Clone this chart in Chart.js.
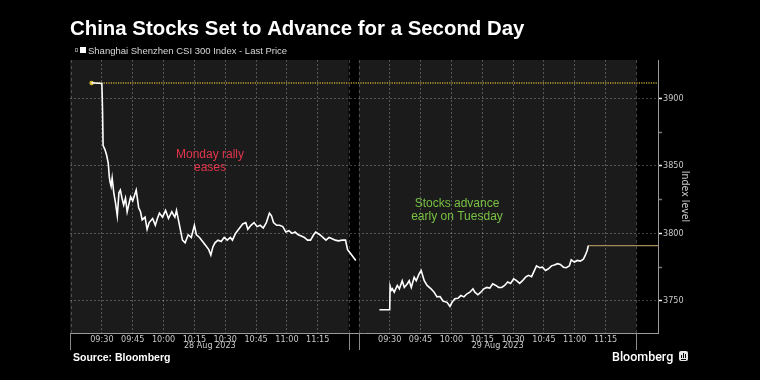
<!DOCTYPE html>
<html><head><meta charset="utf-8">
<script src="https://cdn.jsdelivr.net/npm/chart.js@4.4.0/dist/chart.umd.min.js"></script>
<style>
html,body{margin:0;padding:0;background:#000;}
canvas{display:block;}
</style></head><body>
<canvas id="c" width="760" height="380"></canvas>
<script>
// ---------- data ----------
const chartTitle = 'China Stocks Set to Advance for a Second Day';
const seriesName = 'Shanghai Shenzhen CSI 300 Index - Last Price';
const sourceText = 'Source: Bloomberg';
const axisTitle = 'Index level';
const dayLabels = ['28 Aug 2023', '29 Aug 2023'];
const tickLabels = ['09:30','09:45','10:00','10:15','10:30','10:45','11:00','11:15'];
const tickMinutes = [15, 30, 45, 60, 75, 90, 105, 120];          // minutes after 09:15
const yMajorTicks = [3750, 3800, 3850, 3900];
const yMinorTicks = [3775, 3825, 3875];
const annotationMonday = ['Monday rally', 'eases'];
const annotationTuesday = ['Stocks advance', 'early on Tuesday'];

const day1Minutes = [10, 15, 15.3, 15.6, 16.5, 17.3, 18.1, 18.6, 19, 19.5, 20, 20.8, 21.6, 22.5, 23.3, 24, 24.8, 25.6, 26.5, 27.3, 28.2, 29, 30, 31.7, 32.9, 33.8, 34.6, 36, 37, 38, 39.7, 41, 42, 43, 44.5, 46, 47.4, 49, 50.5, 51.3, 52.5, 54.2, 55.5, 57, 58.5, 60, 61, 62.5, 64, 65.5, 67, 68, 69, 70, 71.5, 73, 74.5, 76, 77.5, 78.5, 80, 82, 83.5, 85, 86, 87.5, 89, 90.5, 92, 93.5, 95, 96.5, 97.5, 98.5, 100, 101.5, 103, 104.5, 106, 107.5, 109, 110.5, 112, 113.5, 115, 116.5, 118, 119, 121, 122.5, 124, 125.5, 127, 128.5, 130, 132, 133.5, 134.5, 135.5, 136.5, 137.5, 138.5];
const day1Values = [3911.5, 3911, 3893, 3865, 3862, 3858, 3852, 3842, 3838, 3835, 3841, 3830, 3823, 3813, 3830, 3832, 3826, 3821, 3826, 3816, 3822, 3827, 3824, 3832, 3819, 3816, 3810, 3812, 3803, 3808, 3811, 3806, 3811, 3815, 3812, 3817, 3811, 3816, 3812, 3817, 3808, 3795, 3793, 3799, 3797, 3806, 3799, 3797, 3794, 3791, 3788, 3784, 3790, 3793, 3795, 3794, 3797, 3795, 3797, 3795, 3800, 3804, 3807, 3808, 3803, 3806, 3808, 3805, 3806, 3804, 3808, 3815, 3813, 3808, 3806, 3806, 3805, 3801, 3802, 3800, 3801, 3799, 3798, 3797, 3795, 3795, 3799, 3801, 3799, 3797, 3795, 3797, 3796, 3795, 3794.5, 3795, 3795, 3788, 3786, 3784, 3782, 3780];

const day2Minutes = [10, 15, 15.2, 15.8, 16.3, 17.2, 18.7, 19.7, 21.1, 22.1, 23.5, 24.5, 25.5, 26.9, 27.9, 29.3, 30.3, 31.8, 33.2, 35.1, 36.6, 38, 39.5, 40.9, 42.9, 44.3, 45.3, 46.7, 48.2, 49.6, 51.1, 52.6, 54, 55.5, 56.4, 57.9, 59.3, 60.8, 62.2, 63.7, 65.1, 66.6, 68, 69.5, 70.9, 72.4, 73.8, 75.3, 76.7, 78.2, 79.6, 81.1, 82.5, 84, 85.4, 86.4, 87.9, 89.3, 90.8, 92.2, 93.7, 95.1, 96.6, 98, 99.5, 100.9, 102.4, 103.3, 104.8, 106.3, 107.7, 109.2, 110.1, 111.1, 111.6];
const day2Values = [3743.5, 3743.5, 3761, 3758, 3759, 3756.5, 3761.5, 3759, 3765, 3760, 3762.6, 3765, 3760, 3767.6, 3765, 3770, 3772.6, 3765, 3761.5, 3759, 3756.5, 3753, 3753.3, 3750, 3749, 3746, 3749, 3751.6, 3752, 3754, 3753, 3755.3, 3756.5, 3759, 3756.5, 3754.6, 3756.5, 3759, 3760, 3759.5, 3762.7, 3761.5, 3760, 3760, 3761.5, 3764, 3763, 3766.4, 3765, 3763, 3765, 3767.6, 3769, 3768, 3772.6, 3776, 3774.6, 3775, 3772.6, 3773.8, 3776, 3776.7, 3777.6, 3777, 3775, 3774.6, 3776, 3780.5, 3778.8, 3780, 3779.5, 3781, 3783.7, 3787.5, 3791];

const openLevel = 3911.3;     // dotted reference line
const lastLevel = 3791;       // last price carried forward

// ---------- layout constants ----------
const DAY_OFFSET = 140;       // axis minutes where second session starts
const SESSION_LEN = 135;      // 09:15 - 11:30
const X_MIN = -0.5, X_MAX = 285.5;
const Y_MIN = 3726.3, Y_MAX = 3928.3;
const NARROW = "'Liberation Sans Narrow', 'DejaVu Sans Condensed', 'Liberation Sans', Arial, sans-serif";
const SANS = "'Liberation Sans', Arial, sans-serif";

const pts = (ms, vs, off) => ms.map((m, i) => ({x: m + off, y: vs[i]}));
const xTicks = [...tickMinutes, ...tickMinutes.map(m => m + DAY_OFFSET)];
const yTicks = [...yMajorTicks, ...yMinorTicks].sort((a, b) => a - b);
const lastX = day2Minutes[day2Minutes.length - 1] + DAY_OFFSET;

const decor = {
  id: 'decor',
  beforeDraw(chart) {
    const {ctx, chartArea: a, scales: {x}} = chart;
    ctx.save();
    ctx.fillStyle = '#000';
    ctx.fillRect(0, 0, chart.width, chart.height);
    ctx.fillStyle = '#1b1b1b';
    [[0, SESSION_LEN], [DAY_OFFSET, DAY_OFFSET + SESSION_LEN]].forEach(([s, e]) => {
      const x0 = s === 0 ? a.left : x.getPixelForValue(s);
      const x1 = x.getPixelForValue(e);
      ctx.fillRect(x0, a.top, x1 - x0, a.bottom - a.top);
    });
    ctx.restore();
  },
  beforeDatasetsDraw(chart) {
    const {ctx, chartArea: a, scales: {x}} = chart;
    ctx.save();
    ctx.strokeStyle = 'rgba(120,120,120,0.55)';
    ctx.lineWidth = 1;
    ctx.setLineDash([3, 3]);
    [a.left + 0.5, x.getPixelForValue(SESSION_LEN), x.getPixelForValue(DAY_OFFSET), x.getPixelForValue(DAY_OFFSET + SESSION_LEN)].forEach(px => {
      px = Math.round(px) + 0.5;
      ctx.beginPath(); ctx.moveTo(px, a.top); ctx.lineTo(px, a.bottom); ctx.stroke();
    });
    ctx.restore();
  },
  afterDraw(chart) {
    const {ctx, chartArea: a, scales: {x}} = chart;
    ctx.save();
    // separators below the axis
    ctx.strokeStyle = '#8a8a8a';
    ctx.lineWidth = 1;
    [a.left, x.getPixelForValue(SESSION_LEN), x.getPixelForValue(DAY_OFFSET), x.getPixelForValue(DAY_OFFSET + SESSION_LEN)].forEach(px => {
      px = Math.round(px) + 0.5;
      ctx.beginPath(); ctx.moveTo(px, a.bottom); ctx.lineTo(px, a.bottom + 17); ctx.stroke();
    });
    // date labels
    ctx.fillStyle = '#c8c8c8';
    ctx.font = '9px ' + NARROW;
    ctx.textAlign = 'center';
    ctx.textBaseline = 'middle';
    ctx.fillText(dayLabels[0], x.getPixelForValue(SESSION_LEN / 2), 346);
    ctx.fillText(dayLabels[1], x.getPixelForValue(DAY_OFFSET + SESSION_LEN / 2), 346);

    // title
    ctx.textAlign = 'left';
    ctx.textBaseline = 'alphabetic';
    ctx.fillStyle = '#ffffff';
    ctx.font = 'bold 20.4px ' + SANS;
    ctx.fillText(chartTitle, 70, 35);

    // legend
    ctx.strokeStyle = '#777';
    ctx.strokeRect(75.5, 48.5, 2, 3);
    ctx.fillStyle = '#ffffff';
    ctx.fillRect(80, 47, 6, 6);
    ctx.fillStyle = '#d8d8d8';
    ctx.font = '9.5px ' + SANS;
    ctx.textBaseline = 'middle';
    ctx.fillText(seriesName, 88, 51);

    // source
    ctx.fillStyle = '#ffffff';
    ctx.font = 'bold 10.5px ' + SANS;
    ctx.textBaseline = 'alphabetic';
    ctx.fillText(sourceText, 73, 361);

    // Bloomberg logo
    ctx.font = '500 12.5px Roboto, ' + SANS;
    ctx.fillText('Bloomberg', 612, 361);
    ctx.fillStyle = '#e8e8e8';
    const lx = 679, ly = 351;
    ctx.beginPath();
    if (ctx.roundRect) ctx.roundRect(lx, ly, 9, 10, 2); else ctx.rect(lx, ly, 9, 10);
    ctx.fill();
    ctx.fillStyle = '#000';
    ctx.fillRect(lx + 2, ly + 4, 1, 3);
    ctx.fillRect(lx + 4, ly + 2, 1, 5);
    ctx.fillRect(lx + 6, ly + 3, 1, 4);
    ctx.fillRect(lx + 2, ly + 8, 5, 1);

    // annotations
    ctx.textAlign = 'center';
    ctx.textBaseline = 'middle';
    ctx.font = '12px ' + SANS;
    ctx.fillStyle = '#e0354c';
    ctx.fillText(annotationMonday[0], 210, 155);
    ctx.fillText(annotationMonday[1], 210, 168);
    ctx.fillStyle = '#78c142';
    ctx.fillText(annotationTuesday[0], 457, 204);
    ctx.fillText(annotationTuesday[1], 457, 217);
    ctx.restore();
  }
};

new Chart(document.getElementById('c'), {
  type: 'line',
  data: {
    datasets: [
      {data: pts(day1Minutes, day1Values, 0), borderColor: '#ffffff', borderWidth: 1.6, pointRadius: 0, tension: 0},
      {data: pts(day2Minutes, day2Values, DAY_OFFSET), borderColor: '#ffffff', borderWidth: 1.6, pointRadius: 0, tension: 0},
      {data: [{x: lastX, y: lastLevel}, {x: X_MAX, y: lastLevel}], borderColor: '#a38a56', borderWidth: 1.2, pointRadius: 0},
      {data: [{x: day1Minutes[0], y: openLevel}, {x: X_MAX, y: openLevel}], borderColor: '#bfa530', borderWidth: 1.6,
       borderDash: [1.2, 1.2], pointRadius: [2.2, 0], pointBackgroundColor: '#d9bc3a', pointBorderWidth: 0}
    ]
  },
  options: {
    responsive: false,
    animation: false,
    devicePixelRatio: 1,
    layout: {padding: {top: 60, left: 70, right: 0, bottom: 0}},
    plugins: {legend: {display: false}, tooltip: {enabled: false}},
    scales: {
      x: {
        type: 'linear', position: 'bottom', min: X_MIN, max: X_MAX,
        afterBuildTicks: s => { s.ticks = xTicks.map(v => ({value: v})); },
        afterFit: s => { s.height = 47; },
        ticks: {autoSkip: false, maxRotation: 0, padding: 1, color: '#c8c8c8',
                font: {family: NARROW, size: 9},
                callback: (v, i) => tickLabels[i % tickLabels.length]},
        grid: {color: 'rgba(255,255,255,0.26)', drawTicks: false, lineWidth: 1},
        border: {display: true, color: '#9a9a9a', width: 1, dash: [2, 2]}
      },
      y: {
        type: 'linear', position: 'right', min: Y_MIN, max: Y_MAX,
        afterBuildTicks: s => { s.ticks = yTicks.map(v => ({value: v})); },
        afterFit: s => { s.width = 102; },
        ticks: {padding: 1, color: '#c8c8c8', font: {family: NARROW, size: 9},
                callback: v => yMajorTicks.includes(v) ? String(v) : ''},
        grid: {
          color: c => (c.tick && yMajorTicks.includes(c.tick.value)) ? 'rgba(255,255,255,0.26)' : 'rgba(0,0,0,0)',
          tickColor: c => (c.tick && yMajorTicks.includes(c.tick.value)) ? '#f0f0f0' : '#777',
          tickLength: 4, tickWidth: 1.5, drawTicks: true
        },
        border: {display: true, color: '#9a9a9a', width: 1, dash: [2, 2]},
        title: {display: true, text: axisTitle, color: '#c8c8c8', font: {family: NARROW, size: 10.5},
                padding: {top: 69, bottom: 0}}
      }
    }
  },
  plugins: [decor]
});
</script>
</body></html>
